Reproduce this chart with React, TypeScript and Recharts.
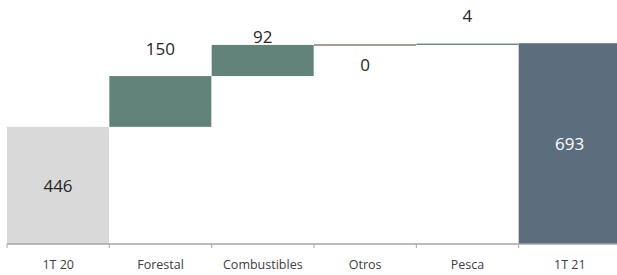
import React from 'react';
import { Bar, BarChart, Cell, LabelList, XAxis, YAxis } from 'recharts';

const categories = ['1T 20', 'Forestal', 'Combustibles', 'Otros', 'Pesca', '1T 21'];
const values = [446, 150, 92, 0, 4, 693];
const isTotal = [true, false, false, false, false, true];

// styling per column
const colors = ['#d9d9d9', '#62837a', '#62837a', '#8c7b73', '#62837a', '#5c6d7d'];
const labelDy = [0, -28, -8, 20, -28, 0];
const labelColors = ['#262626', '#262626', '#262626', '#262626', '#262626', '#ffffff'];

const W = 621;
const H = 275;
const M = { top: 7, right: 0, left: 7, bottom: 1 };
const PLOT_BOTTOM = H - M.bottom - 30;
const BAND = (W - M.left - M.right) / categories.length;

let running = 0;
const data = categories.map((name, i) => {
  const base = isTotal[i] ? 0 : running;
  if (isTotal[i]) running = values[i];
  else running += values[i];
  return { name, base, delta: values[i], value: values[i] };
});

const DeltaShape = (props: any) => {
  const { x, y, width, height, index } = props;
  if (height < 0.5) {
    return <line x1={x} x2={x + width} y1={y} y2={y} stroke={colors[index]} strokeWidth={1.5} />;
  }
  return <rect x={x} y={y} width={width} height={height} fill={colors[index]} />;
};

const ValueLabel = (props: any) => {
  const { x, y, width, height, index, value } = props;
  const top = Math.min(y, y + height);
  const bottom = Math.min(Math.max(y, y + height), PLOT_BOTTOM);
  const cy = isTotal[index] ? (top + bottom) / 2 : top + labelDy[index];
  return (
    <text
      x={x + width / 2}
      y={cy}
      textAnchor="middle"
      dominantBaseline="central"
      fontSize={17}
      fontFamily="'Open Sans', sans-serif"
      fill={labelColors[index]}
    >
      {value}
    </text>
  );
};

const CategoryTick = (props: any) => {
  const { x, payload } = props;
  return (
    <g>
      <line
        x1={x - BAND / 2}
        x2={x - BAND / 2}
        y1={PLOT_BOTTOM}
        y2={PLOT_BOTTOM + 4}
        stroke="#a6a6a6"
        strokeWidth={1}
      />
      <text
        x={x}
        y={PLOT_BOTTOM + 20}
        textAnchor="middle"
        dominantBaseline="central"
        fontSize={12.5}
        fontFamily="'Open Sans', sans-serif"
        fill="#404040"
      >
        {payload.value}
      </text>
    </g>
  );
};

export default function App() {
  return (
    <div style={{ position: 'absolute', left: 0, top: 0, width: 617, height: H, overflow: 'hidden', background: '#fff' }}>
      <BarChart width={W} height={H} data={data} margin={M} barCategoryGap={0}>
        <XAxis
          dataKey="name"
          height={30}
          interval={0}
          tickLine={false}
          axisLine={{ stroke: '#a6a6a6', strokeWidth: 1.5 }}
          tick={<CategoryTick />}
        />
        <YAxis hide domain={[100, 800]} allowDataOverflow />
        <Bar dataKey="base" stackId="w" fill="transparent" isAnimationActive={false} />
        <Bar dataKey="delta" stackId="w" shape={<DeltaShape />} isAnimationActive={false}>
          {data.map((d, i) => (
            <Cell key={d.name} fill={colors[i]} />
          ))}
          <LabelList dataKey="value" content={<ValueLabel />} />
        </Bar>
      </BarChart>
    </div>
  );
}
